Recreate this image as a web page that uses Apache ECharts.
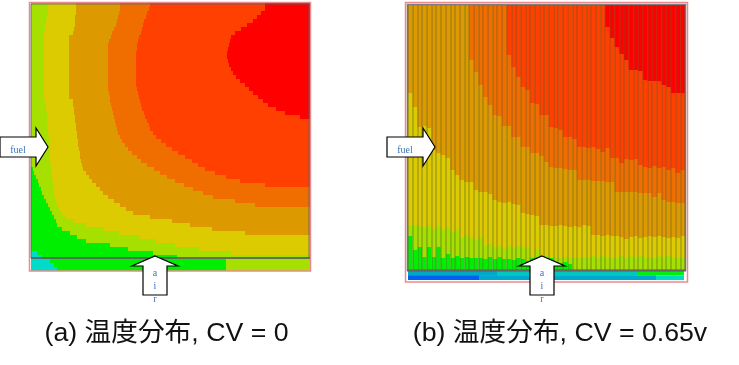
<!DOCTYPE html>
<html>
<head>
<meta charset="utf-8">
<style>
  html, body { margin: 0; padding: 0; background: #fff; }
  #main { width: 739px; height: 365px; }
</style>
<script src="https://cdn.jsdelivr.net/npm/echarts@6/dist/echarts.min.js"></script>
</head>
<body>
<div id="main"></div>
<script>
// panel (a): per row, right edge of each temperature band (rows top to bottom)
var cyanEdgeA = [
  31,31,31,31,31,31,31,31,31,31, 31,31,31,31,31,31,31,31,31,31,
  31,31,31,31,31,31,31,31,31,31, 31,31,31,31,31,31,31,31,31,31,
  31,31,31,31,31,31,31,31,31,31, 31,31,31,31,31,31,31,31,31,31,
  31,31,37,42,50,54,57];
var greenEdgeA = [
  31,31,31,31,31,31,31,31,31,31, 31,31,31,31,31,31,31,31,31,31,
  31,31,31,31,31,31,31,31,31,31, 31,31,31,31,31,31,31,31,31,31,
  31,33,34,36,38,39,41,42,44,46, 48,50,52,54,56,57,62,70,77,86,
  110,128,153,177,226,226,226];
var limeEdgeA = [
  48,48,48,47,46,46,45,44,44,44, 44,44,44,44,44,44,44,44,44,44,
  44,44,44,44,45,46,46,47,47,47, 48,48,48,49,49,49,49,50,50,50,
  51,51,52,52,53,53,54,54,55,56, 57,59,62,66,74,86,104,119,140,156,
  175,199,231,310,310,310,310];
var yellowEdgeA = [
  76,76,76,75,75,75,74,73,69,69, 69,69,69,69,69,69,69,69,69,69,
  69,69,69,69,73,73,74,74,75,75, 76,76,77,77,78,78,79,80,80,81,
  82,83,86,89,92,96,100,103,108,114, 120,126,133,150,172,190,212,245,310,310,
  310,310,310,310,310,310,310];
var amberEdgeA = [
  120,120,119,118,117,116,114,112,111,109, 108,108,108,108,108,108,108,108,108,108,
  108,108,109,110,110,111,112,113,114,115, 116,117,118,120,122,125,128,132,137,141,
  147,154,160,167,175,184,193,203,213,235, 255,310,310,310,310,310,310,310,310,310,
  310,310,310,310,310,310,310];
var orangeEdgeA = [
  150,149,147,146,144,143,142,141,139,138, 137,137,136,136,136,136,136,136,136,136,
  136,137,138,139,140,141,142,144,145,147, 149,150,153,156,161,166,172,178,185,192,
  198,205,215,226,240,265,310,310,310,310, 310,310,310,310,310,310,310,310,310,310,
  310,310,310,310,310,310,310];
var redOrangeEdgeA = [
  265,265,261,257,253,247,241,235,231,230, 229,228,227,227,228,229,231,233,236,240,
  245,249,253,258,263,268,276,285,300,310, 310,310,310,310,310,310,310,310,310,310,
  310,310,310,310,310,310,310,310,310,310, 310,310,310,310,310,310,310,310,310,310,
  310,310,310,310,310,310,310];
var redEdgeA = [
  310,310,310,310,310,310,310,310,310,310, 310,310,310,310,310,310,310,310,310,310,
  310,310,310,310,310,310,310,310,310,310, 310,310,310,310,310,310,310,310,310,310,
  310,310,310,310,310,310,310,310,310,310, 310,310,310,310,310,310,310,310,310,310,
  310,310,310,310,310,310,310];

// panel (b): per column, bottom of each temperature band (columns left to right)
var redBottomB = [
  5,5,5,5,5,5,5,5,5,5, 5,5,5,5,5,5,5,5,5,5,
  5,5,5,5,5,5,5,5,5,5, 5,5,5,5,5,5,5,5,5,5,
  5,5,27,38,47,54,60,70,70,71, 80,81,81,81,85,87,93,93,93];
var redOrangeBottomB = [
  5,5,5,5,5,5,5,5,5,5, 5,5,5,5,5,5,5,5,5,5,
  5,55,67,77,87,90,103,104,115,115, 127,128,130,137,137,139,147,147,148,147,
  149,152,148,158,158,163,159,160,159,165, 167,168,166,168,167,170,168,173,170];
var orangeBottomB = [
  5,5,5,5,5,5,5,5,5,5, 5,5,5,60,72,85,97,105,115,116,
  126,126,137,137,147,147,153,153,156,162, 167,168,168,169,170,170,180,180,180,181,
  181,181,182,182,192,192,192,192,192,193, 193,193,197,193,200,202,202,203,203];
var amberBottomB = [
  93,107,127,126,128,150,153,155,158,170, 175,180,182,182,190,192,192,194,200,202,
  203,202,204,205,213,214,215,216,225,225, 226,226,225,226,227,226,227,225,226,235,
  235,236,235,236,236,237,239,237,236,238, 237,236,237,236,237,238,237,238,236];
var yellowBottomB = [
  226,225,226,228,225,229,226,230,227,232, 229,238,235,237,240,238,246,244,247,246,
  249,246,248,246,248,247,257,250,257,256, 258,257,258,257,258,257,258,257,258,256,
  258,256,258,257,258,256,258,256,258,256, 258,257,258,256,258,256,258,257,258];
var limeBottomB = [
  236,250,247,257,247,257,247,258,254,258, 256,258,257,258,258,258,259,257,259,257,
  259,259,260,258,259,261,258,260,259,261, 258,262,263,262,264,270,270,270,270,270,
  270,270,270,270,270,270,270,270,270,270, 270,270,270,270,270,270,270,270,270];
var greenBottomB = [
  270,270,270,270,270,270,270,270,270,270, 270,270,270,270,270,270,270,270,270,270,
  270,270,270,270,270,270,270,270,270,270, 270,270,270,270,270,270,270,270,270,270,
  270,270,270,270,270,270,270,270,270,270, 270,270,270,270,270,270,270,270,270];

// strip under panel (b): right edge of each segment
var stripUpperEdges = [684, 637, 497];
var stripLowerEdges = [684, 656, 479];
var stripUpperColors = ['#00ee10', '#00c8c0', '#00a8c8'];
var stripLowerColors = ['#00dcc0', '#00a8d0', '#0060f0'];

var captionA = '(a) 温度分布, CV = 0';
var captionB = '(b) 温度分布, CV = 0.65v';

var bandColors = {
  cyan: '#00dcc8', green: '#00ee00', lime: '#a5e000', yellow: '#dccb00',
  amber: '#dc9a00', orange: '#f06e00', redOrange: '#ff4000', red: '#fe0000'
};

function indexList(arr) {
  return arr.map(function (v, i) { return i; });
}

function bandSeries(data, color, axisIndex) {
  return {
    type: 'bar',
    data: data,
    xAxisIndex: axisIndex,
    yAxisIndex: axisIndex,
    barGap: '-100%',
    barCategoryGap: 0,
    silent: true,
    itemStyle: { color: color }
  };
}

function hiddenValue(min, max, inverse) {
  return { type: 'value', min: min, max: max, inverse: !!inverse, show: false };
}

var frameColor = '#ea8a8e';
var innerColor = 'rgba(95,95,95,0.8)';
var labelColor = '#3f74b5';
var captionFont = '26.7px "Liberation Sans", "Noto Sans CJK JP", sans-serif';

function rect(x, y, w, h, color, width) {
  return { type: 'rect', z: 100, silent: true, shape: { x: x, y: y, width: w, height: h },
    style: { fill: 'none', stroke: color, lineWidth: width } };
}
function hline(x1, x2, y, color, width) {
  return { type: 'line', z: 100, silent: true, shape: { x1: x1, y1: y, x2: x2, y2: y },
    style: { stroke: color, lineWidth: width } };
}
function arrow(points) {
  return { type: 'polygon', z: 101, silent: true, shape: { points: points },
    style: { fill: '#fff', stroke: '#000', lineWidth: 1.2 } };
}
function label(x, y, text) {
  return { type: 'text', z: 102, silent: true, x: x, y: y,
    style: { text: text, fill: labelColor, font: '10px "Liberation Serif", serif', align: 'center', verticalAlign: 'middle' } };
}
function fuelArrow(x) {
  return [
    arrow([[x, 137], [x + 36, 137], [x + 36, 128], [x + 48, 147], [x + 36, 166], [x + 36, 157], [x, 157]]),
    label(x + 18, 150, 'fuel')
  ];
}
function airArrow(x) {
  return [
    arrow([[x, 256], [x + 23, 266], [x + 12, 266], [x + 12, 295], [x - 12, 295], [x - 12, 266], [x - 23, 266]]),
    label(x, 273, 'a'), label(x, 286, 'i'), label(x, 299, 'r')
  ];
}

var chart = echarts.init(document.getElementById('main'), null, { renderer: 'canvas' });

var seriesA = [
  [redEdgeA, bandColors.red], [redOrangeEdgeA, bandColors.redOrange], [orangeEdgeA, bandColors.orange],
  [amberEdgeA, bandColors.amber], [yellowEdgeA, bandColors.yellow], [limeEdgeA, bandColors.lime],
  [greenEdgeA, bandColors.green], [cyanEdgeA, bandColors.cyan]
].map(function (s) { return bandSeries(s[0], s[1], 0); });

var seriesB = [
  [greenBottomB, bandColors.green], [limeBottomB, bandColors.lime], [yellowBottomB, bandColors.yellow],
  [amberBottomB, bandColors.amber], [orangeBottomB, bandColors.orange], [redOrangeBottomB, bandColors.redOrange],
  [redBottomB, bandColors.red]
].map(function (s) { return bandSeries(s[0], s[1], 1); });

var seriesStrip = stripUpperEdges.map(function (edge, i) {
  return bandSeries([
    { value: edge, itemStyle: { color: stripUpperColors[i] } },
    { value: stripLowerEdges[i], itemStyle: { color: stripLowerColors[i] } }
  ], '#000', 2);
});

var option = {
  animation: false,
  backgroundColor: '#fff',
  grid: [
    { left: 31, top: 3, width: 279, height: 268 },
    { left: 408, top: 5, width: 277, height: 265 },
    { left: 408, top: 271, width: 277, height: 9 }
  ],
  xAxis: [
    hiddenValue(31, 310),
    {
      type: 'category', gridIndex: 1, data: indexList(greenBottomB), z: 50,
      axisLine: { show: false }, axisTick: { show: false }, axisLabel: { show: false },
      splitLine: { show: true, interval: 0, lineStyle: { color: 'rgba(105,85,45,0.3)', width: 2 } }
    },
    Object.assign(hiddenValue(408, 685), { gridIndex: 2 })
  ],
  yAxis: [
    { type: 'category', gridIndex: 0, inverse: true, show: false, data: indexList(redEdgeA) },
    Object.assign(hiddenValue(5, 270, true), { gridIndex: 1 }),
    { type: 'category', gridIndex: 2, inverse: true, show: false, data: ['upper', 'lower'] }
  ],
  series: seriesA.concat(seriesB, seriesStrip),
  graphic: [
    rect(29.5, 2.5, 281, 268.5, frameColor, 1.5),
    rect(31, 4, 278, 254, innerColor, 1),
    hline(31, 310, 258, innerColor, 2),
    rect(405.5, 2.5, 282, 279.5, frameColor, 1.5),
    rect(407.5, 4.5, 278, 266, innerColor, 1.5),
    hline(407, 686, 270.5, innerColor, 2),
    { type: 'text', silent: true, x: 166.5, y: 334,
      style: { text: captionA, fill: '#111', font: captionFont, align: 'center', verticalAlign: 'middle' } },
    { type: 'text', silent: true, x: 560, y: 334,
      style: { text: captionB, fill: '#111', font: captionFont, align: 'center', verticalAlign: 'middle' } }
  ].concat(fuelArrow(0), airArrow(155), fuelArrow(387), airArrow(542))
};

chart.setOption(option);
</script>
</body>
</html>
